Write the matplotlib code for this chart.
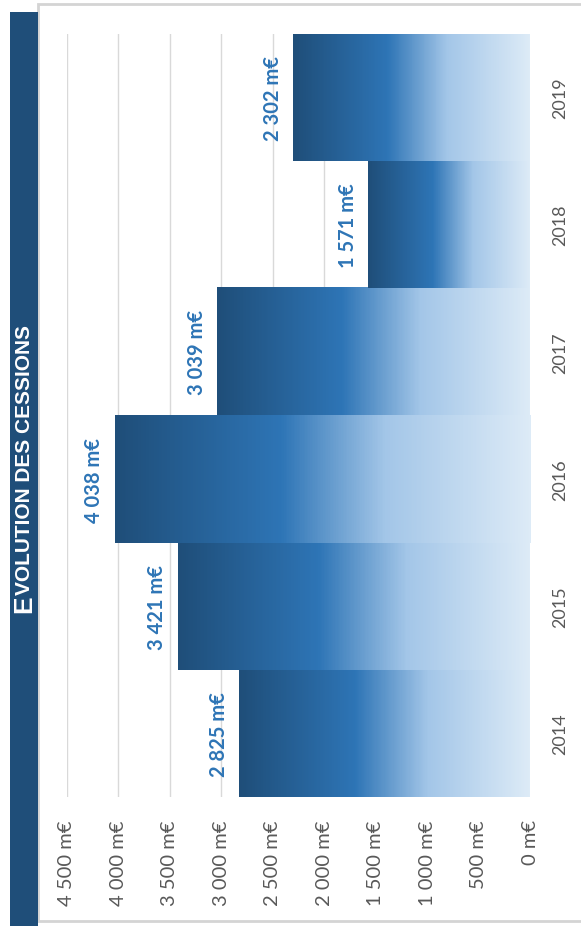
import matplotlib.pyplot as plt
import numpy as np
from matplotlib.colors import LinearSegmentedColormap
from matplotlib.patches import Rectangle
from matplotlib.ticker import FuncFormatter

years = ['2014', '2015', '2016', '2017', '2018', '2019']
cessions = [2825, 3421, 4038, 3039, 1571, 2302]
value_ticks = [0, 500, 1000, 1500, 2000, 2500, 3000, 3500, 4000, 4500]

W, H = 581, 929
NAVY = '#1F4E79'
BLUE = '#2E75B6'
GREY = '#595959'

plt.rcParams['font.family'] = ['Lato', 'DejaVu Sans']


def px(x, y, w, h):
    # pixel box (top-left origin) -> figure fraction rect
    return [x / W, 1 - (y + h) / H, w / W, h / H]


def fmt(v, _=None):
    return f'{int(v):,}'.replace(',', ' ') + ' m€'


fig = plt.figure(figsize=(W / 100, H / 100), dpi=100)

# white card with a light grey frame, and the navy title band
l, b, w, h = px(38, 5, 560, 917)
fig.patches.append(Rectangle((l, b), w, h, transform=fig.transFigure,
                             facecolor='white', edgecolor='#D4D4D4', lw=2, zorder=-2))
l, b, w, h = px(10, 13, 28, 914)
fig.patches.append(Rectangle((l, b), w, h, transform=fig.transFigure,
                             facecolor=NAVY, edgecolor='none', zorder=-1))

ax = fig.add_axes(px(67, 35, 463, 763))
ax.set_facecolor('none')
pos = np.arange(len(years))

bars = ax.barh(pos, cessions, height=1.0, color='none', edgecolor='none', zorder=2)

# gradient: light at the base, dark at the bar end
cmap = LinearSegmentedColormap.from_list(
    'cess', [(0, '#DDEBF7'), (0.35, '#A3C6E8'), (0.6, BLUE), (1, NAVY)])
grad = np.linspace(0, 1, 256).reshape(1, -1)
for bar, v in zip(bars, cessions):
    y0 = bar.get_y()
    ax.imshow(grad, cmap=cmap, aspect='auto', interpolation='nearest',
              extent=(0, v, y0, y0 + bar.get_height()), zorder=2)
    ax.text(v + 200, bar.get_y() + bar.get_height() / 2, fmt(v),
            rotation=90, ha='center', va='center', color=BLUE,
            fontsize=14.5, fontweight='bold')

ax.set_xlim(4500, 0)
ax.set_ylim(-0.5, len(years) - 0.5)
ax.set_xticks(value_ticks)
ax.xaxis.set_major_formatter(FuncFormatter(fmt))
ax.grid(axis='x', color='#D9D9D9', lw=1, zorder=0)
ax.set_axisbelow(True)
for s in ax.spines.values():
    s.set_visible(False)

ax.yaxis.tick_right()
ax.set_yticks(pos)
ax.set_yticklabels(years)
ax.tick_params(axis='y', length=0, pad=16, labelsize=13, labelcolor=GREY,
               labelrotation=90)
for t in ax.get_yticklabels():
    t.set_va('center')
ax.tick_params(axis='x', length=0, pad=16, labelsize=14.5, labelcolor=GREY,
               labelrotation=90)

# title in small caps: a larger first letter followed by the rest
fig.canvas.draw()
first = fig.text(24 / W, 1 - 613 / H, 'E', rotation=90, ha='center', va='bottom',
                 color='white', fontsize=19, fontweight='bold',
                 family=['Liberation Sans', 'DejaVu Sans'])
fig.canvas.draw()
bb = first.get_window_extent()
top = fig.transFigure.inverted().transform((0, bb.y1))[1]
fig.text(24.5 / W, top, 'VOLUTION DES CESSIONS', rotation=90, ha='center', va='bottom',
         color='white', fontsize=15, fontweight='bold',
         family=['Liberation Sans', 'DejaVu Sans'])

fig.savefig('out.png', dpi=100)
